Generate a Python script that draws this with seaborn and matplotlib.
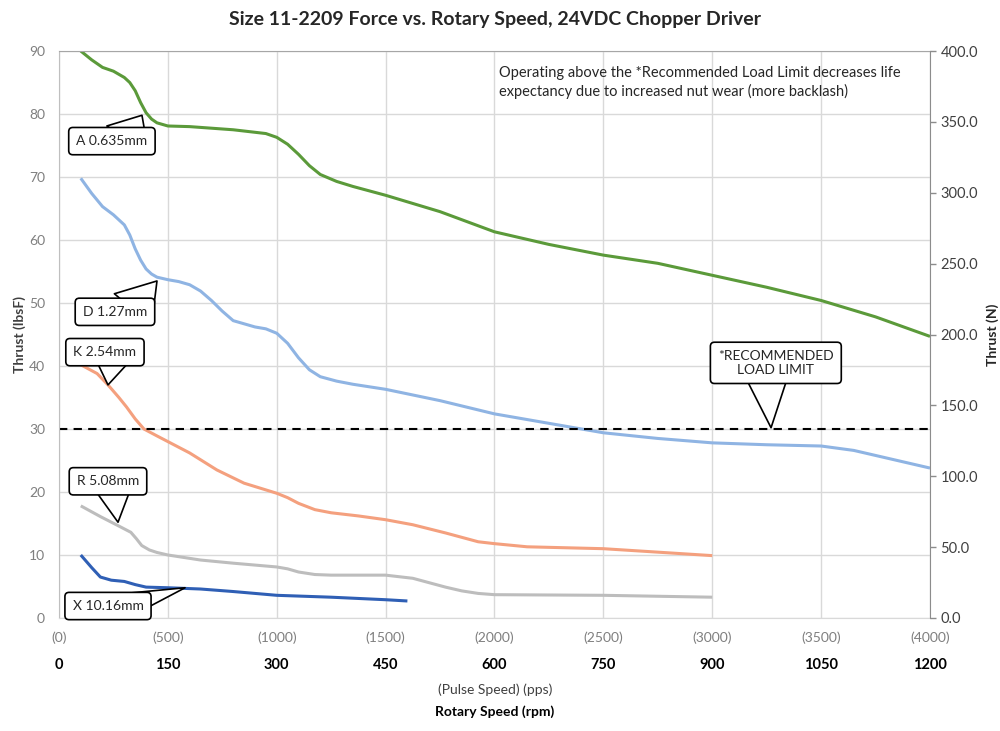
import pandas as pd
import seaborn as sns
import matplotlib.pyplot as plt
from matplotlib.ticker import FormatStrFormatter

# pulse speed (pps) and thrust (lbsF), one pair of lists per lead
A_PPS = [100, 150, 200, 250, 300, 325, 350, 375, 400, 425, 450, 500, 600, 800, 900, 950,
         1000, 1050, 1100, 1150, 1200, 1275, 1350, 1500, 1750, 2000, 2250, 2500, 2750,
         3000, 3250, 3500, 3750, 4000]
A_LBS = [90, 88.6, 87.4, 86.8, 85.8, 85.0, 83.7, 81.8, 80.2, 79.2, 78.6, 78.1, 78, 77.5,
         77.1, 76.9, 76.3, 75.2, 73.6, 71.8, 70.4, 69.3, 68.5, 67.1, 64.5, 61.3, 59.3, 57.6,
         56.3, 54.4, 52.5, 50.4, 47.8, 44.7]
D_PPS = [100, 150, 200, 250, 300, 325, 350, 375, 400, 425, 450, 500, 550, 600, 650, 700,
         750, 800, 900, 950, 1000, 1050, 1100, 1150, 1200, 1275, 1350, 1500, 1750, 2000,
         2250, 2500, 2750, 3000, 3250, 3500, 3650, 3800, 4000]
D_LBS = [69.8, 67.4, 65.3, 64, 62.4, 60.8, 58.6, 56.8, 55.4, 54.6, 54.1, 53.7, 53.4, 52.9,
         51.9, 50.4, 48.7, 47.2, 46.2, 45.9, 45.2, 43.6, 41.3, 39.4, 38.3, 37.6, 37.1, 36.3,
         34.5, 32.4, 30.9, 29.4, 28.5, 27.8, 27.5, 27.3, 26.6, 25.4, 23.8]
K_PPS = [100, 175, 225, 275, 310, 350, 390, 450, 500, 600, 725, 850, 1000, 1050, 1100,
         1175, 1250, 1375, 1500, 1625, 1775, 1925, 2000, 2150, 2500, 3000]
K_LBS = [40.2, 38.8, 37, 35, 33.5, 31.6, 30, 28.9, 28, 26.2, 23.5, 21.4, 19.8, 19.1, 18.2,
         17.2, 16.7, 16.2, 15.6, 14.8, 13.5, 12.1, 11.8, 11.3, 11.0, 9.9]
R_PPS = [100, 190, 280, 330, 355, 380, 415, 450, 500, 650, 800, 1000, 1050, 1100, 1175,
         1250, 1500, 1625, 1700, 1775, 1850, 1925, 2000, 2500, 3000]
R_LBS = [17.8, 16.1, 14.5, 13.6, 12.6, 11.5, 10.8, 10.4, 10, 9.2, 8.7, 8.1, 7.8, 7.3, 6.9,
         6.8, 6.8, 6.3, 5.6, 4.9, 4.3, 3.9, 3.7, 3.6, 3.3]
X_PPS = [100, 150, 190, 240, 300, 350, 400, 500, 650, 800, 1000, 1250, 1500, 1600]
X_LBS = [10, 8, 6.5, 6, 5.8, 5.3, 4.9, 4.8, 4.6, 4.2, 3.6, 3.3, 2.9, 2.7]

LEADS = ["A 0.635mm", "D 1.27mm", "K 2.54mm", "R 5.08mm", "X 10.16mm"]
COLORS = ["#5b9a3a", "#8fb4e3", "#f4a07e", "#bdbdbd", "#2f5fb5"]
LOAD_LIMIT = 30

X_TICKS = [0, 500, 1000, 1500, 2000, 2500, 3000, 3500, 4000]
RPM_TICKS = [0, 150, 300, 450, 600, 750, 900, 1050, 1200]
N_TICKS = [0, 50, 100, 150, 200, 250, 300, 350, 400]

sns.set_style("white")
plt.rcParams["font.family"] = ["Lato", "DejaVu Sans"]

frames = []
for lead, xs, ys in zip(LEADS, [A_PPS, D_PPS, K_PPS, R_PPS, X_PPS],
                        [A_LBS, D_LBS, K_LBS, R_LBS, X_LBS]):
    frames.append(pd.DataFrame({"pps": xs, "lbs": ys, "lead": lead}))
df = pd.concat(frames, ignore_index=True)

fig = plt.figure(figsize=(10, 7.31), dpi=100)
ax = fig.add_axes([0.059, 0.1546, 0.871, 0.7756])

sns.lineplot(data=df, x="pps", y="lbs", hue="lead", palette=COLORS, sort=False,
             estimator=None, linewidth=2.2, legend=False, ax=ax,
             solid_joinstyle="round", solid_capstyle="butt")
ax.axhline(LOAD_LIMIT, color="black", linestyle=(0, (4, 3)), linewidth=1.5)

ax.set_xlim(0, 4000)
ax.set_ylim(0, 90)
ax.set_xticks(X_TICKS, [f"({t})" for t in X_TICKS])
ax.set_yticks(range(0, 91, 10))
ax.grid(True, color="#d9d9d9", linewidth=1)
ax.tick_params(axis="x", colors="#7f7f7f", labelsize=10, length=0, pad=10)
ax.tick_params(axis="y", colors="#7f7f7f", labelsize=10, length=0, pad=10)
ax.set_xlabel("")
ax.set_ylabel("Thrust (lbsF)", fontsize=10, fontweight="bold", color="#404040", labelpad=2)
for side, col in [("left", "#bfbfbf"), ("bottom", "#d9d9d9"), ("top", "#a6a6a6")]:
    ax.spines[side].set_color(col)
ax.spines["right"].set_visible(False)

# rpm row below the pulse-speed row
sec = ax.secondary_xaxis("bottom", functions=(lambda x: x * 0.3, lambda x: x / 0.3))
sec.set_xticks(RPM_TICKS)
sec.tick_params(length=0, pad=29, labelsize=10.5, colors="black")
for lab in sec.get_xticklabels():
    lab.set_fontweight("bold")
sec.spines["bottom"].set_visible(False)

# right axis in newtons
ax2 = ax.twinx()
ax2.set_ylim(0, 400)
ax2.set_yticks(N_TICKS)
ax2.yaxis.set_major_formatter(FormatStrFormatter("%.1f"))
ax2.tick_params(axis="y", colors="#404040", labelsize=10.5, length=4, width=1)
ax2.tick_params(axis="y", color="#8c8c8c")
ax2.set_ylabel("Thrust (N)", fontsize=10, fontweight="bold", color="#262626", labelpad=6)
for side in ["left", "top", "bottom"]:
    ax2.spines[side].set_visible(False)
ax2.spines["right"].set_color("#8c8c8c")

# callout boxes: label, point on curve, box centre, where the tail leaves the text, tail width
box = dict(boxstyle="round,pad=0.55,rounding_size=0.3", fc="white", ec="black", lw=1.2)
callouts = [
    ("A 0.635mm", (381, 79.8), (243, 75.7), (0.72, 0.7), 3.5),
    ("D 1.27mm", (450, 53.5), (257, 48.6), (0.78, 0.7), 3.5),
    ("K 2.54mm", (225, 37.0), (211, 42.2), (0.62, 0.3), 3.0),
    ("R 5.08mm", (271, 15.2), (225, 21.7), (0.58, 0.3), 3.0),
    ("X 10.16mm", (579, 4.8), (225, 1.9), (0.78, 0.6), 1.7),
    ("*RECOMMENDED\nLOAD LIMIT", (3270, 30.2), (3292, 40.5), (0.42, 0.25), 3.5),
]
for text, tip, pos, rel, tw in callouts:
    wedge = dict(arrowstyle=f"wedge,tail_width={tw},shrink_factor=0.5", fc="white",
                 ec="black", lw=1.2, shrinkA=0, shrinkB=0, patchA=None, relpos=rel)
    ax.annotate(text, xy=tip, xytext=pos, ha="center", va="center", fontsize=10,
                color="#262626", bbox=box, arrowprops=wedge, annotation_clip=False,
                zorder=5)

ax.text(2020, 87.6, "Operating above the *Recommended Load Limit decreases life\n"
        "expectancy due to increased nut wear (more backlash)",
        ha="left", va="top", fontsize=10.5, color="#262626", linespacing=1.3)

fig.text(0.495, 0.974, "Size 11-2209 Force vs. Rotary Speed, 24VDC Chopper Driver",
         ha="center", va="center", fontsize=14, fontweight="bold", color="#262626")
fig.text(0.495, 0.056, "(Pulse Speed) (pps)", ha="center", va="center", fontsize=10,
         color="#404040")
fig.text(0.495, 0.027, "Rotary Speed (rpm)", ha="center", va="center", fontsize=10,
         fontweight="bold", color="black")

fig.savefig("out.png", dpi=100)
